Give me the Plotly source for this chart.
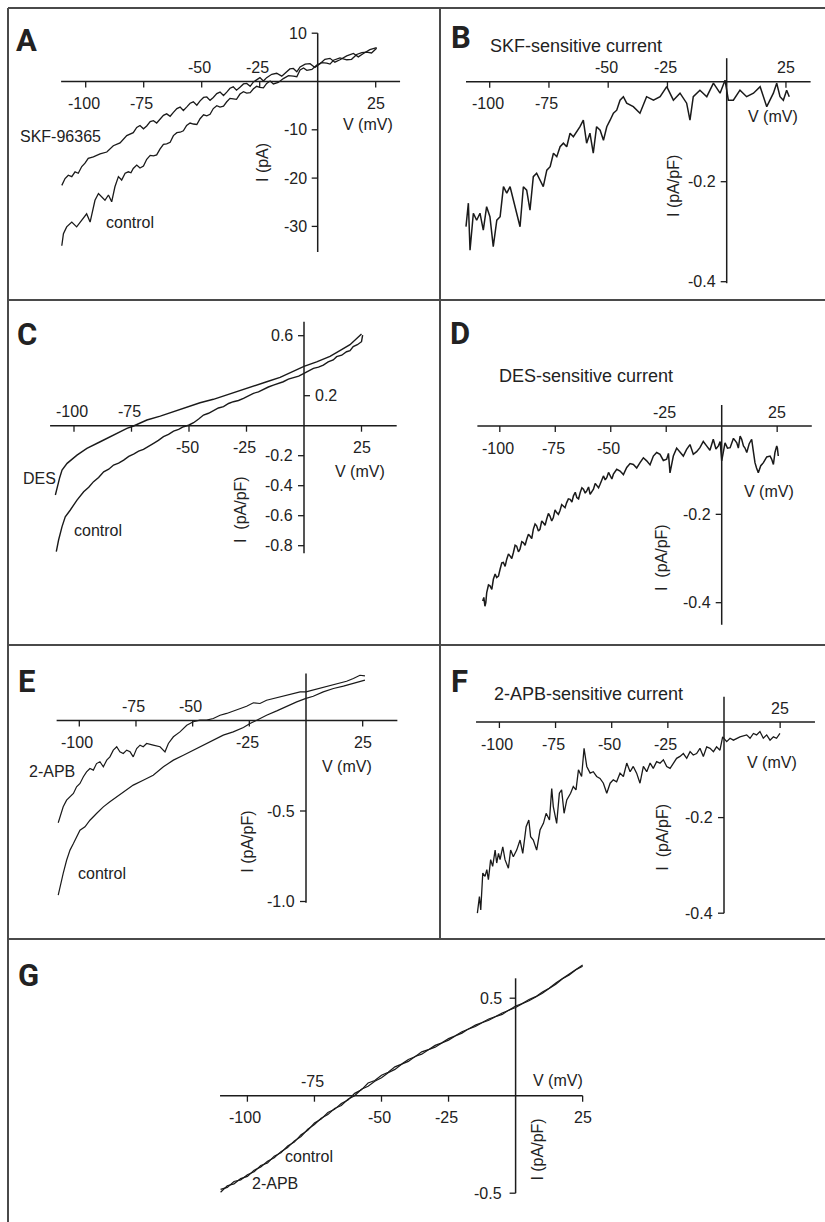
import plotly.graph_objects as go

W, H = 825, 1222

# ---------------- data ----------------
# Panel A  (V in mV, I in pA)
A_V_control = [-110.3, -109.6, -108.2, -106, -103.9, -101.7, -99.6, -98.1, -96, -94.5,
               -93.1, -91.7, -90.2, -88.8, -87.4, -85.9, -84.5, -83, -81.6, -80.5,
               -79.5, -78, -76.6, -75.1, -73.7, -72.2, -70.8, -69.4, -68, -66.5,
               -65.1, -63.6, -62.2, -60.7, -59.3, -57.9, -56.5, -55, -53.6, -52.1,
               -50.7, -49.2, -47.8, -46.4, -45, -43.5, -42.1, -40.6, -39.2, -37.8,
               -36.4, -35, -33.5, -32, -30.6, -29.1, -27.7, -26.3, -24.9, -23.4,
               -22, -20.5, -19.1, -17, -14.8, -12.6, -10.5, -9, -7.6, -6.1,
               -4.7, -2.5, -0.4, 1.7, 3.9, 5.3, 6.8, 9.6, 12.5, 14.6,
               16.8, 19, 21.1, 23.2, 25.4]
A_I_control = [-34, -31.5, -30.1, -29.1, -30.1, -28.8, -27.4, -29.1, -24.6, -23.2,
               -23.9, -24.6, -23.5, -24.9, -21.8, -19.7, -20.4, -19, -18.7, -18.9,
               -18.0, -17.3, -17.9, -17.5, -16.1, -15.3, -15.4, -15.2, -14.0, -13.0,
               -12.9, -12.6, -11.2, -10.6, -10.5, -10.2, -9.1, -8.6, -8.8, -8.9,
               -7.7, -6.9, -7.1, -6.8, -5.6, -5.0, -5.3, -5.1, -4.2, -3.5,
               -3.6, -3.7, -2.6, -2.1, -2.4, -2.3, -1.5, -1.0, -1.2, -1.3,
               -0.4, 0.1, -0.5, -0.2, 0.6, 1.2, 1.1, 1.0, 2.4, 2.8,
               2.3, 2.5, 3.4, 3.9, 3.8, 3.6, 4.4, 4.9, 4.5, 4.6,
               5.6, 6.0, 6.1, 5.9, 6.9]
A_V_skf = [-110.3, -108.9, -107.5, -106, -104.6, -103.2, -101.7, -100.3, -98.9, -96.7,
           -93.8, -90.9, -88.1, -85.2, -82.3, -79.5, -78, -76.6, -75.1, -73.7,
           -72.2, -70.8, -69.4, -68, -66.5, -65.1, -63.6, -62.2, -60.7, -59.3,
           -57.9, -56.5, -55, -53.6, -52.1, -50.7, -49.2, -47.8, -46.4, -45,
           -43.5, -42.1, -40.6, -39.2, -37.8, -36.4, -35, -33.5, -32, -30.6,
           -29.1, -27.7, -26.3, -24.9, -23.4, -22, -19.8, -17.7, -15.5, -13.4,
           -12, -10.5, -9, -7.6, -5.4, -3.3, -1.2, 1, 3.1, 5.3,
           7.4, 9.6, 12.5, 15.4, 17.5, 19.7, 22.5, 25.4]
A_I_skf = [-21.5, -20.1, -19.4, -19.7, -18.7, -19, -17.6, -16.9, -15.9, -15.6,
           -15.0, -14.6, -13.3, -12.7, -11.2, -10.6, -9.5, -9.1, -9.8, -9.2,
           -8.3, -8.1, -8.6, -7.8, -7.0, -6.7, -7.2, -6.4, -5.6, -5.3,
           -6.0, -5.3, -4.5, -4.2, -4.9, -4.0, -3.3, -3.2, -3.9, -3.3,
           -2.5, -2.2, -2.9, -2.2, -1.4, -1.1, -1.8, -1.2, -0.5, -0.4,
           -1.0, -0.1, 0.3, 0.8, 0.1, 0.8, 1.5, 1.7, 1.1, 2.0,
           2.6, 2.7, 2.0, 3.0, 3.6, 3.7, 2.9, 3.7, 4.6, 4.8,
           4.0, 4.5, 5.3, 5.8, 5.1, 5.8, 6.6, 7.0]
A_xticks = [-100, -75, -50, -25, 25]
A_xticks_above = [-50, -25]
A_yticks = [10, -10, -20, -30]
A_ytext = ["10", "-10", "-20", "-30"]

# Panel B  (pA/pF)
B_V = [-110, -109, -108.3, -106.9, -105.5, -104.1, -102.7, -101.3, -99.9, -98.5, -97, -95.6, -94.2, -92.8, -91.4,
       -90, -88.6, -87.2, -85.8, -84.4, -83, -81.6, -80.2, -78.8, -77.4, -75.9, -74.5, -73.1, -71.7, -70.3,
       -68.9, -67.5, -66.1, -64.7, -61.9, -60.5, -59.1, -57.7, -56.3, -54.9, -53.4, -52, -50.6, -49.2, -47.8,
       -46.4, -45, -43.6, -42.2, -39.4, -36.6, -33.8, -30.9, -28.1, -25.3, -22.5, -19.7, -16.9, -15.5, -14.1,
       -11.3, -8.4, -5.6, -2.8, -0.7, 0.7, 2.8, 5.6, 8.4, 11.3, 14.1, 16.9, 19.7, 21.1, 22.5, 23.9, 25.3, 26.4]
B_I = [-0.29, -0.243, -0.337, -0.263, -0.277, -0.263, -0.297, -0.25, -0.27, -0.33, -0.277, -0.27, -0.21, -0.223,
       -0.21, -0.237, -0.263, -0.29, -0.21, -0.217, -0.257, -0.19, -0.183, -0.197, -0.21, -0.177, -0.17, -0.143,
       -0.15, -0.13, -0.123, -0.13, -0.103, -0.11, -0.09, -0.077, -0.123, -0.103, -0.143, -0.09, -0.097, -0.117,
       -0.09, -0.077, -0.063, -0.057, -0.037, -0.03, -0.043, -0.05, -0.063, -0.03, -0.037, -0.03, -0.01, -0.037,
       -0.023, -0.043, -0.077, -0.03, -0.017, -0.03, -0.003, -0.023, 0.003, -0.037, -0.037, -0.017, -0.03, -0.023,
       -0.01, -0.05, -0.023, -0.003, -0.03, -0.037, -0.017, -0.03]
B_xticks = [-100, -75, -50, -25, 25]
B_xticks_above = [-50, -25, 25]
B_yticks = [-0.2, -0.4]
B_ytext = ["-0.2", "-0.4"]

# Panel C
C_V_des = [-108.1, -107.4, -106.2, -105.2, -103, -98.7, -94.4, -88.6, -82.8, -77, -74.1, -68.3, -62.5, -56.7,
           -50.9, -45.2, -39.4, -33.6, -27.8, -22, -16.2, -10.4, -4.6, 0, 5.5, 11.3, 15.6, 20, 25]
C_I_des = [-0.462, -0.41, -0.345, -0.296, -0.251, -0.196, -0.151, -0.107, -0.062, -0.018, -0.002, 0.038, 0.064,
           0.093, 0.122, 0.153, 0.176, 0.204, 0.233, 0.26, 0.293, 0.322, 0.36, 0.395, 0.425, 0.462, 0.5, 0.54, 0.612]
C_V_control = [-107.7, -106.7, -105.2, -103.8, -101.6, -98.7, -95.8, -93.6, -91.5, -89.3, -87.1, -84.9, -82.8,
               -80.6, -78.4, -76.2, -74.1, -71.9, -69.8, -67.6, -65.4, -63.3, -61.1, -58.9, -56.7, -54.5, -52.4,
               -50.2, -48, -45.8, -43.7, -41.5, -39.4, -37.2, -35, -32.8, -30.7, -28.5, -26.3, -24.1, -22, -19.8,
               -17.7, -15.5, -13.3, -11.1, -9, -6.8, -4.6, -2.3, 0, 2, 4.1, 6.3, 8.4, 10.5, 12.7, 14.2, 16.4, 18.5,
               20, 21.4, 23.2, 25, 25.5]
C_I_control = [-0.84, -0.762, -0.673, -0.607, -0.562, -0.496, -0.44, -0.41, -0.373, -0.345, -0.307, -0.29, -0.262,
               -0.25, -0.229, -0.205, -0.189, -0.17, -0.158, -0.14, -0.118, -0.098, -0.073, -0.058, -0.036, -0.025,
               -0.007, 0.003, 0.02, 0.045, 0.071, 0.083, 0.1, 0.118, 0.127, 0.148, 0.16, 0.168, 0.182, 0.2, 0.216,
               0.225, 0.242, 0.258, 0.271, 0.28, 0.293, 0.31, 0.322, 0.33, 0.349, 0.365, 0.382, 0.39, 0.404, 0.425,
               0.438, 0.46, 0.47, 0.493, 0.5, 0.527, 0.54, 0.56, 0.604]
C_xticks = [-100, -75, -50, -25, 25]
C_xticks_above = [-100, -75]
C_yticks = [0.6, -0.2, -0.4, -0.6, -0.8]
C_ytext = ["0.6", "-0.2", "-0.4", "-0.6", "-0.8"]
C_yticks_right = [0.2]
C_ytext_right = ["0.2"]

# Panel D
D_V = [-107.7, -107.2, -106.7, -106.3, -105.9, -105.1, -104.4, -103.6, -102.9, -102.1,
       -101.4, -100.6, -99.9, -99.1, -98.4, -97.6, -96.9, -96.1, -95.4, -94.6,
       -93.9, -93.1, -92.4, -91.6, -90.9, -90.1, -89.4, -88.6, -87.9, -87.1,
       -86.4, -85.6, -84.9, -84.1, -83.4, -82.6, -81.9, -81.1, -80.4, -79.6,
       -78.9, -78.1, -77.4, -76.6, -75.9, -75.1, -74.4, -73.6, -72.9, -72.1,
       -71.4, -70.6, -69.9, -69.1, -68.3, -67.5, -66.8, -66, -65.3, -64.5,
       -63.8, -63, -62.3, -61.5, -60.8, -60, -59.3, -58.5, -57.8, -57,
       -56.3, -55.5, -54.8, -54, -53.3, -52.5, -51.8, -51, -50.3, -49.5,
       -48.8, -47.3, -45.8, -44.3, -42.8, -41.3, -39.8, -38.3, -36.8, -35.3,
       -33.8, -32.3, -30.8, -29.3, -27.8, -26.3, -24.8, -24, -23.3, -22.5,
       -21.8, -20.3, -18.8, -17.3, -15.8, -14.3, -12.8, -11.3, -9.8, -8.3,
       -6.8, -5.3, -3.8, -2.6, -1.5, -0.7, 0, 0.7, 1.5, 2.6,
       3.8, 5.3, 6.8, 7.5, 8.3, 9, 9.8, 10.5, 11.3, 12.4,
       13.5, 14.2, 15, 15.7, 16.5, 17.6, 18.8, 20.3, 21.8, 22.5,
       23.3, 24, 24.8, 25.1, 25.5]
D_I = [-0.396, -0.388, -0.408, -0.4, -0.377, -0.36, -0.362, -0.37, -0.347, -0.335,
       -0.343, -0.34, -0.325, -0.31, -0.309, -0.318, -0.302, -0.29, -0.294, -0.3,
       -0.287, -0.27, -0.272, -0.285, -0.279, -0.262, -0.264, -0.27, -0.257, -0.245,
       -0.249, -0.255, -0.234, -0.222, -0.226, -0.238, -0.234, -0.215, -0.219, -0.225,
       -0.211, -0.198, -0.204, -0.215, -0.208, -0.19, -0.196, -0.2, -0.192, -0.178,
       -0.181, -0.185, -0.174, -0.165, -0.166, -0.172, -0.158, -0.15, -0.162, -0.165,
       -0.151, -0.14, -0.143, -0.152, -0.147, -0.138, -0.155, -0.15, -0.143, -0.13,
       -0.136, -0.14, -0.132, -0.12, -0.113, -0.122, -0.117, -0.105, -0.113, -0.12,
       -0.109, -0.098, -0.102, -0.11, -0.094, -0.085, -0.087, -0.095, -0.083, -0.072,
       -0.079, -0.088, -0.068, -0.06, -0.064, -0.078, -0.075, -0.062, -0.106, -0.08,
       -0.068, -0.05, -0.06, -0.068, -0.053, -0.042, -0.064, -0.058, -0.049, -0.035,
       -0.045, -0.055, -0.03, -0.052, -0.045, -0.035, -0.079, -0.06, -0.038, -0.05,
       -0.049, -0.028, -0.038, -0.05, -0.023, -0.03, -0.045, -0.05, -0.06, -0.04,
       -0.03, -0.055, -0.083, -0.095, -0.106, -0.09, -0.083, -0.07, -0.068, -0.075,
       -0.087, -0.06, -0.045, -0.05, -0.068]
D_xticks = [-100, -75, -50, -25, 25]
D_xticks_above = [-25, 25]
D_yticks = [-0.2, -0.4]
D_ytext = ["-0.2", "-0.4"]

# Panel E
E_V_apb = [-109.3, -108.5, -107.8, -107.1, -105.6, -104.1, -102.6, -101.2, -99.7, -98.2, -96.8, -95.3, -93.8,
           -92.4, -90.9, -89.4, -87.9, -86.5, -85, -83.5, -82.1, -80.6, -79.1, -77.6, -76.2, -74.7, -73.2, -71.8,
           -70.3, -67.4, -64.4, -62.2, -60.7, -58.5, -55.6, -52.6, -49.7, -46.8, -43.8, -40.9, -37.9, -35, -32.1,
           -29.1, -26.2, -23.2, -20.3, -17.4, -14.4, -11.5, -8.5, -5.6, -2.6, 0, 3.2, 6.2, 9.1, 12.1, 15, 17.9,
           20.9, 23.8, 26]
E_I_apb = [-0.565, -0.532, -0.505, -0.477, -0.44, -0.422, -0.403, -0.366, -0.348, -0.311, -0.284, -0.265, -0.274,
           -0.238, -0.228, -0.256, -0.219, -0.201, -0.164, -0.145, -0.173, -0.182, -0.164, -0.173, -0.201, -0.155,
           -0.136, -0.145, -0.127, -0.136, -0.145, -0.173, -0.127, -0.09, -0.063, -0.026, -0.007, 0.002, 0.002,
           0.011, 0.029, 0.039, 0.053, 0.066, 0.079, 0.098, 0.094, 0.112, 0.122, 0.131, 0.14, 0.149, 0.158, 0.158,
           0.168, 0.177, 0.186, 0.195, 0.204, 0.217, 0.232, 0.25, 0.247]
E_V_control = [-109.3, -108.5, -107.1, -105.6, -104.1, -102.6, -101.2, -99.7, -97.5, -95.3, -92.4, -89.4, -86.5,
               -83.5, -80.6, -76.2, -71.8, -67.4, -62.9, -58.5, -54.1, -49.7, -45.3, -40.9, -36.5, -32.1, -27.6,
               -24.7, -21.8, -17.4, -12.9, -8.5, -4.1, 0, 3.2, 7.6, 12.1, 16.5, 20.9, 26]
E_I_control = [-0.965, -0.919, -0.845, -0.772, -0.716, -0.68, -0.643, -0.606, -0.587, -0.551, -0.514, -0.477,
               -0.449, -0.422, -0.394, -0.357, -0.33, -0.302, -0.256, -0.219, -0.192, -0.164, -0.136, -0.105,
               -0.081, -0.063, -0.039, -0.017, 0.002, 0.029, 0.053, 0.079, 0.103, 0.122, 0.134, 0.158, 0.177, 0.19,
               0.204, 0.223]
E_xticks = [-100, -75, -50, -25, 25]
E_xticks_above = [-75, -50]
E_yticks = [-0.5, -1.0]
E_ytext = ["-0.5", "-1.0"]

# Panel F
F_V = [-109.8, -108.9, -108.3, -107.4, -106.4, -105.6, -104.9, -103.9, -103, -101.9, -101.2, -100.4, -99.7,
       -98.5, -97.5, -96, -95, -93.8, -92.3, -90.8, -89.6, -88.1, -86.9, -86.1, -84.9, -83.4, -81.9, -80.4,
       -79.2, -77.7, -76.7, -76, -74.5, -73.3, -72.3, -71.2, -70, -68.3, -67.1, -65.9, -64.8, -63.4, -62.3,
       -61.1, -59.6, -58.2, -56.7, -55.2, -53.7, -52.2, -50.7, -49.3, -47.8, -46.3, -44.8, -43.3, -41.8, -40.4,
       -38.9, -37.4, -35.9, -34.4, -32.9, -31.5, -30, -28.5, -27, -25.5, -24, -22.6, -21.1, -19.6, -18.1, -16.6,
       -15.1, -13.7, -12.2, -10.7, -9.2, -7.7, -6.2, -4.7, -3.3, -1.8, -0.6, 1.2, 2.7, 4.2, 7.1, 10.1, 11.6,
       13.1, 14.5, 16, 17.5, 19, 20.5, 22, 23.4, 24.9]
F_I = [-0.4, -0.365, -0.393, -0.316, -0.323, -0.309, -0.33, -0.288, -0.302, -0.268, -0.295, -0.275, -0.288,
       -0.261, -0.288, -0.306, -0.268, -0.282, -0.268, -0.247, -0.275, -0.219, -0.205, -0.24, -0.247, -0.268,
       -0.226, -0.212, -0.191, -0.205, -0.139, -0.177, -0.212, -0.149, -0.142, -0.191, -0.163, -0.149, -0.135,
       -0.142, -0.1, -0.114, -0.055, -0.093, -0.107, -0.104, -0.114, -0.118, -0.128, -0.149, -0.128, -0.121,
       -0.125, -0.107, -0.114, -0.086, -0.104, -0.093, -0.107, -0.128, -0.093, -0.104, -0.086, -0.097, -0.083,
       -0.086, -0.079, -0.093, -0.097, -0.086, -0.076, -0.072, -0.066, -0.076, -0.062, -0.069, -0.066, -0.055,
       -0.072, -0.052, -0.055, -0.062, -0.052, -0.059, -0.031, -0.041, -0.034, -0.038, -0.031, -0.027, -0.034,
       -0.024, -0.027, -0.02, -0.034, -0.027, -0.038, -0.031, -0.034, -0.024]
F_xticks = [-100, -75, -50, -25, 25]
F_xticks_above = [25]
F_yticks = [-0.2, -0.4]
F_ytext = ["-0.2", "-0.4"]

# Panel G
G_V = [-110, -107.5, -105, -102.5, -100, -97.5, -95, -92.5, -90, -87.5, -85, -82.5, -80, -77.5, -75, -72.5, -70,
       -67.5, -65, -62.5, -60, -57.5, -55, -52.5, -50, -47.5, -45, -42.5, -40, -37.5, -35, -32.5, -30, -27.5,
       -25, -22.5, -20, -17.5, -15, -12.5, -10, -7.5, -5, -2.5, 0, 2.5, 5, 7.5, 10, 12.5, 15, 17.5, 20, 22.5, 25]
G_I_control = [-0.48, -0.47, -0.44, -0.432, -0.405, -0.39, -0.358, -0.345, -0.31, -0.293, -0.258, -0.238, -0.2,
               -0.178, -0.14, -0.12, -0.086, -0.07, -0.04, -0.022, 0.012, 0.03, 0.065, 0.078, 0.105, 0.12, 0.148,
               0.162, 0.186, 0.2, 0.225, 0.236, 0.258, 0.271, 0.293, 0.307, 0.328, 0.342, 0.362, 0.375, 0.393,
               0.406, 0.424, 0.438, 0.46, 0.473, 0.493, 0.508, 0.532, 0.551, 0.578, 0.601, 0.626, 0.645, 0.67]
G_I_apb = [-0.495, -0.462, -0.452, -0.425, -0.414, -0.382, -0.366, -0.336, -0.318, -0.287, -0.266, -0.232, -0.209,
           -0.172, -0.148, -0.116, -0.097, -0.066, -0.05, -0.018, 0.0, 0.033, 0.048, 0.074, 0.092, 0.118, 0.135,
           0.161, 0.176, 0.201, 0.213, 0.236, 0.249, 0.27, 0.285, 0.306, 0.321, 0.343, 0.355, 0.374, 0.387, 0.405,
           0.417, 0.439, 0.452, 0.472, 0.487, 0.507, 0.525, 0.55, 0.572, 0.6, 0.619, 0.646, 0.664]
G_xticks = [-100, -75, -50, -25, 25]
G_xticks_above = [-75]
G_yticks = [0.5, -0.5]
G_ytext = ["0.5", "-0.5"]

# ---------------- styling / layout ----------------
FONT = "Liberation Sans, Arial, Helvetica, sans-serif"
LETTER_FONT = "Roboto, Liberation Sans, sans-serif"
TXT = "#222222"
AXC = "#1c1c1c"
LINEC = "#1a1a1a"
BORDER = "#4a4a4a"

# pixel box (L, R, T, B) and mapping (V0 px, px per mV, I0 py, px per unit)
panels = [
    dict(n=1, box=(40, 430, 15, 295), m=(317.7, 2.32, 81.5, 4.83), xext=(-110.6, 35.5), yext=(-35.3, 10),
         xt=A_xticks, xa=A_xticks_above, yt=A_yticks, ytx=A_ytext, ytr=[], ytrx=[], yshift_lab=-9, lw=1.3,
         traces=[(A_V_control, A_I_control), (A_V_skf, A_I_skf)]),
    dict(n=2, box=(445, 822, 15, 295), m=(726.7, 2.37, 81.7, 500), xext=(-110, 35.4), yext=(-0.403, 0.047),
         xt=B_xticks, xa=B_xticks_above, yt=B_yticks, ytx=B_ytext, ytr=[], ytrx=[], yshift_lab=-9, lw=1.5,
         traces=[(B_V, B_I)]),
    dict(n=3, box=(40, 430, 305, 640), m=(304, 2.30, 425.7, 150), xext=(-110.4, 40.3), yext=(-0.85, 0.693),
         xt=C_xticks, xa=C_xticks_above, yt=C_yticks, ytx=C_ytext, ytr=C_yticks_right, ytrx=C_ytext_right,
         yshift_lab=-9, lw=1.4, traces=[(C_V_des, C_I_des), (C_V_control, C_I_control)]),
    dict(n=4, box=(445, 822, 305, 640), m=(721.7, 2.219, 426, 441.7), xext=(-110.1, 40.6), yext=(-0.45, 0.0475),
         xt=D_xticks, xa=D_xticks_above, yt=D_yticks, ytx=D_ytext, ytr=[], ytrx=[], yshift_lab=-9, lw=1.5,
         traces=[(D_V, D_I)]),
    dict(n=5, box=(40, 430, 650, 935), m=(306, 2.267, 720.5, 181), xext=(-110, 40.3), yext=(-1.007, 0.26),
         xt=E_xticks, xa=E_xticks_above, yt=E_yticks, ytx=E_ytext, ytr=[], ytrx=[], yshift_lab=-9, lw=1.2,
         traces=[(E_V_apb, E_I_apb), (E_V_control, E_I_control)]),
    dict(n=6, box=(445, 822, 650, 935), m=(724, 2.246, 722, 478), xext=(-110.4, 40.5), yext=(-0.4, 0.053),
         xt=F_xticks, xa=F_xticks_above, yt=F_yticks, ytx=F_ytext, ytr=[], ytrx=[], yshift_lab=-9, lw=1.3,
         traces=[(F_V, F_I)]),
    dict(n=7, box=(200, 620, 945, 1215), m=(515.6, 2.682, 1095.7, 195), xext=(-110.2, 25), yext=(-0.5, 0.602),
         xt=G_xticks, xa=G_xticks_above, yt=G_yticks, ytx=G_ytext, ytr=[], ytrx=[], yshift_lab=-12, lw=1.2,
         traces=[(G_V, G_I_control), (G_V, G_I_apb)]),
]

fig = go.Figure()
shapes = []
annotations = []
layout_axes = {}

for p in panels:
    n = p["n"]
    L, R, T, B = p["box"]
    v0, kx, i0, ky = p["m"]
    xname = "xaxis" if n == 1 else "xaxis%d" % n
    yname = "yaxis" if n == 1 else "yaxis%d" % n
    xr = "x" if n == 1 else "x%d" % n
    yr = "y" if n == 1 else "y%d" % n
    layout_axes[xname] = dict(domain=[L / W, R / W], range=[(L - v0) / kx, (R - v0) / kx],
                              visible=False, anchor=yr, fixedrange=True)
    layout_axes[yname] = dict(domain=[1 - B / H, 1 - T / H], range=[(i0 - B) / ky, (i0 - T) / ky],
                              visible=False, anchor=xr, fixedrange=True)
    for vx, iy in p["traces"]:
        fig.add_trace(go.Scatter(x=vx, y=iy, xaxis=xr, yaxis=yr, mode="lines",
                                 line=dict(color=LINEC, width=p["lw"]), showlegend=False, hoverinfo="skip"))
    # axes crossing at the origin
    shapes.append(dict(type="line", xref=xr, yref=yr, x0=p["xext"][0], x1=p["xext"][1], y0=0, y1=0,
                       line=dict(color=AXC, width=1.5)))
    shapes.append(dict(type="line", xref=xr, yref=yr, x0=0, x1=0, y0=p["yext"][0], y1=p["yext"][1],
                       line=dict(color=AXC, width=1.5)))
    tlx = 6.0 / ky
    tly = 6.0 / kx
    for t in p["xt"]:
        shapes.append(dict(type="line", xref=xr, yref=yr, x0=t, x1=t, y0=0, y1=-tlx,
                           line=dict(color=AXC, width=1.3)))
        above = t in p["xa"]
        annotations.append(dict(xref=xr, yref=yr, x=t, y=0, text=str(t), showarrow=False,
                                xanchor="center", yanchor="middle", xshift=-2 if t < 0 else 0,
                                yshift=14 if above else -22,
                                font=dict(family=FONT, size=16, color=TXT)))
    for t, s in zip(p["yt"], p["ytx"]):
        shapes.append(dict(type="line", xref=xr, yref=yr, x0=0, x1=-tly, y0=t, y1=t,
                           line=dict(color=AXC, width=1.3)))
        annotations.append(dict(xref=xr, yref=yr, x=0, y=t, text=s, showarrow=False,
                                xanchor="right", yanchor="middle", xshift=p["yshift_lab"],
                                font=dict(family=FONT, size=16, color=TXT)))
    for t, s in zip(p["ytr"], p["ytrx"]):
        shapes.append(dict(type="line", xref=xr, yref=yr, x0=0, x1=tly, y0=t, y1=t,
                           line=dict(color=AXC, width=1.3)))
        annotations.append(dict(xref=xr, yref=yr, x=0, y=t, text=s, showarrow=False,
                                xanchor="left", yanchor="middle", xshift=9,
                                font=dict(family=FONT, size=16, color=TXT)))


def txt(s, px, py, size=16, angle=0, family=FONT):
    annotations.append(dict(xref="paper", yref="paper", x=px / W, y=1 - py / H, text=s, showarrow=False,
                            xanchor="center", yanchor="middle", textangle=angle,
                            font=dict(family=family, size=size, color=TXT)))


NB = "\u00a0"
# Panel A texts
txt("V (mV)", 368, 124.5)
txt("I (pA)", 262.5, 162.5, angle=-90)
txt("SKF-96365", 60, 137)
txt("control", 129.5, 222.5)
# Panel B
txt("V (mV)", 773, 116.7)
txt("I (pA/pF)", 673, 186, angle=-90)
txt("SKF-sensitive current", 576, 46, size=18)
# Panel C
txt("V (mV)", 360, 471)
txt("I" + NB + NB + "(pA/pF)", 240, 510, angle=-90)
txt("DES", 39, 478)
txt("control", 97.5, 530.5)
# Panel D
txt("V (mV)", 768.5, 491.7)
txt("I" + NB + NB + "(pA/pF)", 661, 558, angle=-90)
txt("DES-sensitive current", 585.5, 375.7, size=18)
# Panel E
txt("V (mV)", 346.7, 766.7)
txt("I (pA/pF)", 246.7, 842, angle=-90)
txt("2-APB", 52.5, 771.7)
txt("control", 101.7, 873)
# Panel F
txt("V (mV)", 771.7, 762)
txt("I" + NB + NB + "(pA/pF)", 661.7, 837, angle=-90)
txt("2-APB-sensitive current", 588, 694, size=18)
# Panel G
txt("V (mV)", 557.7, 1080.8)
txt("I (pA/pF)", 536.6, 1150, angle=-90)
txt("control", 309, 1156.7)
txt("2-APB", 275, 1183.3)

# Panel letters
for letter, px, py in [("A", 26.5, 40), ("B", 461, 37.5), ("C", 26.5, 334), ("D", 459.5, 333),
                       ("E", 26, 681.7), ("F", 459.5, 681.7), ("G", 28, 975)]:
    txt("<b>%s</b>" % letter, px, py, size=31, family=LETTER_FONT)

# Frame lines
def pline(x0, y0, x1, y1):
    shapes.append(dict(type="line", xref="paper", yref="paper", x0=x0 / W, x1=x1 / W,
                       y0=1 - y0 / H, y1=1 - y1 / H, line=dict(color=BORDER, width=2)))

pline(8, 8, 825, 8)
pline(8, 8, 8, 1222)
pline(440, 8, 440, 939)
pline(8, 300, 825, 300)
pline(8, 645, 825, 645)
pline(8, 939, 825, 939)

fig.update_layout(width=W, height=H, autosize=False, margin=dict(l=0, r=0, t=0, b=0),
                  paper_bgcolor="white", plot_bgcolor="rgba(0,0,0,0)", showlegend=False,
                  shapes=shapes, annotations=annotations, **layout_axes)

fig.write_html("out.html")
